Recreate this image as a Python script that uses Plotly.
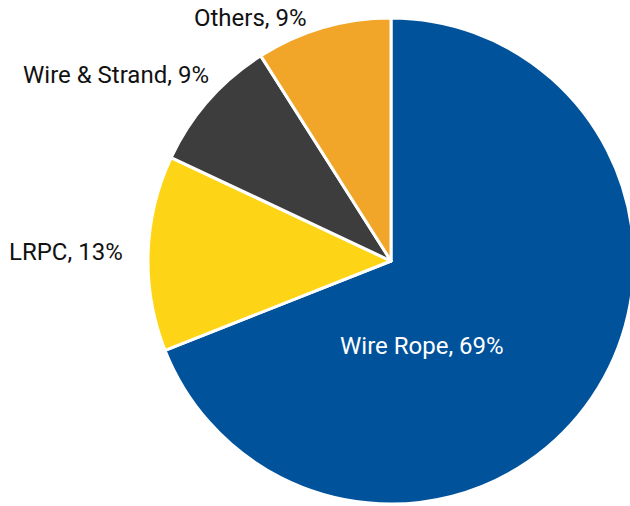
import plotly.graph_objects as go

categories = ["Wire Rope", "LRPC", "Wire & Strand", "Others"]
shares = [69, 13, 9, 9]
colors = ["#00529B", "#FDD516", "#3D3D3D", "#F2A629"]

W, H = 640, 506
cx, cy, r = 391, 261, 243

# label centres in pixels (layout only)
label_pos = [(422, 346), (66, 252), (116, 75), (250, 18)]
label_colors = ["white", "#111111", "#111111", "#111111"]

fig = go.Figure(go.Pie(
    labels=categories,
    values=shares,
    sort=False,
    direction="clockwise",
    rotation=0,
    marker=dict(colors=colors, line=dict(color="white", width=3)),
    textinfo="none",
    showlegend=False,
    hoverinfo="label+percent",
    domain=dict(x=[(cx - r) / W, (cx + r) / W], y=[1 - (cy + r) / H, 1 - (cy - r) / H]),
))
for cat, val, (px, py), col in zip(categories, shares, label_pos, label_colors):
    fig.add_annotation(
        x=px / W, y=1 - py / H, xref="paper", yref="paper",
        text=f"{cat}, {val}%", showarrow=False,
        xanchor="center", yanchor="middle",
        font=dict(family="Roboto", size=24, color=col),
    )
fig.update_layout(
    width=W, height=H,
    margin=dict(l=0, r=0, t=0, b=0),
    paper_bgcolor="white",
    font=dict(family="Roboto"),
)
fig.write_html("out.html", config={"displayModeBar": False},
               post_script="document.body.style.margin='0';document.body.style.overflow='hidden';")
